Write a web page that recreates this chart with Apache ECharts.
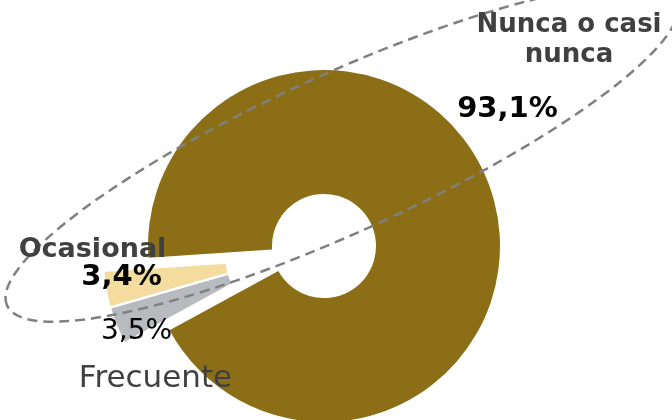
<!DOCTYPE html>
<html>
<head>
<meta charset="utf-8">
<script src="https://cdn.jsdelivr.net/npm/echarts@6/dist/echarts.min.js"></script>
<style>
html,body{margin:0;padding:0;background:#fff;}
#chart{width:672px;height:420px;}
</style>
</head>
<body>
<div id="chart"></div>
<script>
// Data
var categories = ['Nunca o casi nunca', 'Frecuente', 'Ocasional'];
var values = [93.1, 3.5, 3.4];
var labelNames = ['Nunca o casi\nnunca', 'Frecuente', 'Ocasional'];
var colors = ['#8B6E16', '#B7BABE', '#F3DC9E'];

function fmt(v) { return v.toFixed(1).replace('.', ',') + '%'; }

var chart = echarts.init(document.getElementById('chart'), null, {renderer: 'canvas'});

var FONT = '"DejaVu Sans", Verdana, sans-serif';
var startAngle = 183.8;

// main series: big slice only
var dataMain = categories.map(function (c, i) {
  return {name: c, value: values[i], itemStyle: {color: i === 0 ? colors[i] : 'rgba(0,0,0,0)'}};
});
// exploded series: the two small slices
var dataSmall = categories.map(function (c, i) {
  return {name: c, value: values[i], itemStyle: i === 0 ? {color: 'rgba(0,0,0,0)', borderWidth: 0} : {color: colors[i], borderColor: '#fff', borderWidth: 2.5}};
});

function txt(x, y, text, font, fill, lh) {
  return {
    type: 'text', x: x, y: y, z: 120,
    style: {
      text: text, font: font, fill: fill,
      align: 'center', textAlign: 'center',
      verticalAlign: 'middle', textVerticalAlign: 'middle',
      lineHeight: lh || undefined
    }
  };
}

chart.setOption({
  animation: false,
  backgroundColor: '#fff',
  series: [
    {
      type: 'pie', silent: true,
      center: [324, 246], radius: [52, 176],
      startAngle: startAngle, clockwise: true,
      label: {show: false}, labelLine: {show: false},
      data: dataMain
    },
    {
      type: 'pie', silent: true,
      center: [278.8, 259], radius: [52, 176],
      startAngle: startAngle, clockwise: true,
      label: {show: false}, labelLine: {show: false},
      data: dataSmall
    }
  ],
  graphic: [
    {
      type: 'ellipse', x: 342, y: 153, rotation: 24.5 * Math.PI / 180, z: 100,
      shape: {cx: 0, cy: 0, rx: 368, ry: 79},
      style: {fill: 'none', stroke: '#808080', lineWidth: 2.5, lineDash: [10, 6]}
    },
    txt(569, 40.6, labelNames[0], 'bold 26px ' + FONT, '#404040', 30),
    txt(507.5, 109.5, fmt(values[0]), 'bold 29px ' + FONT, '#000'),
    txt(92.5, 250.3, labelNames[2], 'bold 27px ' + FONT, '#404040'),
    txt(121.5, 277.5, fmt(values[2]), 'bold 29px ' + FONT, '#000'),
    txt(136.5, 332, fmt(values[1]), '28px ' + FONT, '#000'),
    txt(155.5, 379, labelNames[1], '31px ' + FONT, '#404040')
  ]
});
</script>
</body>
</html>
